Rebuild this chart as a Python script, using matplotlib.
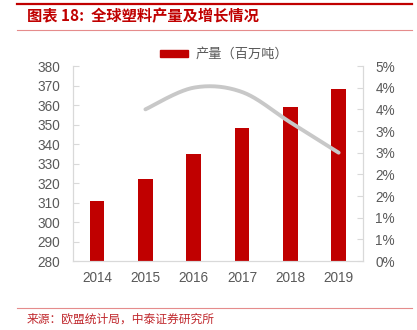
import math

import matplotlib
matplotlib.use("Agg")
import matplotlib.pyplot as plt
import numpy as np
from matplotlib.lines import Line2D
from matplotlib.ticker import FixedLocator, FuncFormatter

plt.rcParams["font.family"] = ["Liberation Sans", "Noto Sans CJK SC", "DejaVu Sans"]

years = ["2014", "2015", "2016", "2017", "2018", "2019"]
output_mt = [311, 322, 335, 348, 359, 368]
growth_years = ["2015", "2016", "2017", "2018", "2019"]
growth_pct = [3.5, 4.0, 3.9, 3.2, 2.5]

RED = "#C00000"
GRAY_TXT = "#595959"
AXIS_GRAY = "#D9D9D9"
LINE_GRAY = "#C8C8C8"


def smooth_curve(xs, ys, steps=40):
    # Catmull-Rom spline through the points, like a spreadsheet "smoothed line"
    xs = np.asarray(xs, float)
    ys = np.asarray(ys, float)
    px = np.concatenate([[xs[0]], xs, [xs[-1]]])
    py = np.concatenate([[ys[0]], ys, [ys[-1]]])
    out_x, out_y = [], []
    for i in range(1, len(px) - 2):
        t = np.linspace(0, 1, steps)
        for arr, out in ((px, out_x), (py, out_y)):
            p0, p1, p2, p3 = arr[i - 1], arr[i], arr[i + 1], arr[i + 2]
            c1 = p1 + (p2 - p0) / 6
            c2 = p2 - (p3 - p1) / 6
            out.extend((1 - t) ** 3 * p1 + 3 * (1 - t) ** 2 * t * c1
                       + 3 * (1 - t) * t ** 2 * c2 + t ** 3 * p2)
    return np.array(out_x), np.array(out_y)


fig = plt.figure(figsize=(4.17, 3.30), dpi=100)
ax = fig.add_axes([0.175, 0.209, 0.695, 0.591])

x = np.arange(len(years))
ax.bar(x, output_mt, width=0.3, color=RED, zorder=2)
ax.set_ylim(280, 380)
ax.set_xlim(-0.5, len(years) - 0.5)
ax.set_yticks(np.arange(280, 381, 10))
ax.set_xticks(x)
ax.set_xticklabels(years)

ax2 = ax.twinx()
gx = [years.index(y) for y in growth_years]
sx, sy = smooth_curve(gx, growth_pct)
ax2.plot(sx, sy, color=LINE_GRAY, lw=2.8, solid_capstyle="round", zorder=3)
ax2.set_ylim(0, 4.5)
ax2.yaxis.set_major_locator(FixedLocator(np.arange(0, 4.51, 0.5)))
ax2.yaxis.set_major_formatter(FuncFormatter(lambda v, p: f"{math.floor(v + 0.5 + 1e-9)}%"))

for a in (ax, ax2):
    a.spines["top"].set_visible(False)
    for side in ("left", "right", "bottom"):
        a.spines[side].set_color(AXIS_GRAY)
        a.spines[side].set_linewidth(0.8)
    a.tick_params(axis="y", direction="in", length=4, width=0.8, color=AXIS_GRAY,
                  labelcolor=GRAY_TXT, labelsize=9.8, pad=9)
    a.tick_params(axis="x", length=0, labelcolor=GRAY_TXT, labelsize=9.8, pad=7)

handle = plt.Rectangle((0, 0), 1, 1, color=RED)
leg = fig.legend([handle], ["产量（百万吨）"], loc="center left",
                 bbox_to_anchor=(0.355, 0.835), frameon=False, fontsize=9.5,
                 handlelength=2.1, handleheight=0.45, handletextpad=0.6,
                 labelcolor=GRAY_TXT)

# header and footer rules
fig.add_artist(Line2D([17 / 417, 412 / 417], [1 - 3.7 / 330] * 2, color=RED, lw=1.6))
fig.add_artist(Line2D([17 / 417, 412 / 417], [1 - 30 / 330] * 2, color="#E58C8C", lw=0.8))
fig.add_artist(Line2D([17 / 417, 412 / 417], [1 - 307.5 / 330] * 2, color="#E58C8C", lw=0.8))

fig.text(27 / 417, 1 - 16 / 330, "图表 18:  全球塑料产量及增长情况", color=RED,
         fontsize=11, fontweight="bold", fontstyle="italic", va="center", ha="left",
         family=["Noto Sans CJK SC", "DejaVu Sans"])
fig.text(27 / 417, 1 - 319.5 / 330, "来源：欧盟统计局，中泰证券研究所", color="#C0282D",
         fontsize=8.5, va="center", ha="left", family=["Noto Sans CJK SC", "DejaVu Sans"])

fig.savefig("out.png", dpi=100)
